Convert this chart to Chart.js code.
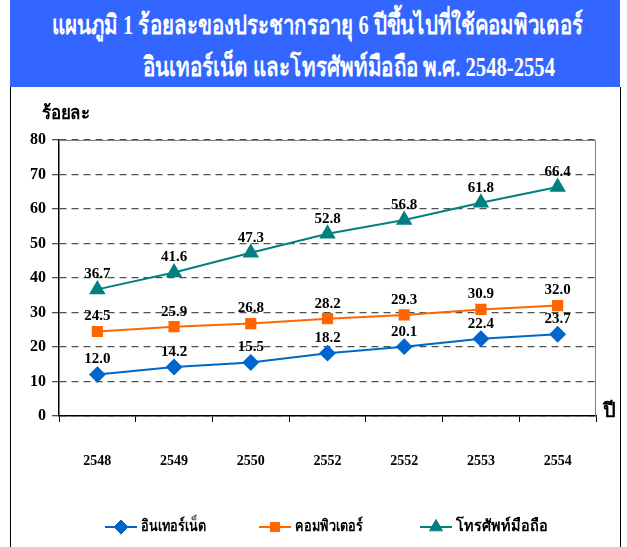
<!DOCTYPE html>
<html><head><meta charset="utf-8">
<script src="https://cdn.jsdelivr.net/npm/chart.js@4/dist/chart.umd.min.js"></script>
<style>
html,body{margin:0;padding:0;background:#fff;width:627px;height:547px;overflow:hidden;}
#wrap{position:relative;width:627px;height:547px;}
#bar{position:absolute;left:10px;top:0;width:610px;height:87px;background:#3366FF;}
.tl{position:absolute;color:#fff;font-family:"Liberation Serif",serif;font-weight:bold;font-size:27px;white-space:nowrap;line-height:1;transform-origin:0 0;}
#frame{position:absolute;left:10px;top:87px;width:609px;height:600px;border-left:1px solid #000;border-right:1px solid #000;}
.lbl{position:absolute;font-family:"Liberation Serif",serif;font-weight:bold;color:#000;white-space:nowrap;line-height:1;transform-origin:0 0;}
canvas{position:absolute;left:0;top:0;}
</style></head><body>
<div id="wrap">
<div id="bar"></div>
<div class="tl" id="t1" data-w="531" style="left:52px;top:12px;">แผนภูมิ 1 ร้อยละของประชากรอายุ 6 ปีขึ้นไปที่ใช้คอมพิวเตอร์</div>
<div class="tl" id="t2" data-w="412" style="left:143px;top:54px;">อินเทอร์เน็ต และโทรศัพท์มือถือ พ.ศ. 2548-2554</div>
<div id="frame"></div>
<canvas id="c" width="627" height="547"></canvas>
<div class="lbl" data-w="48" style="left:42px;top:103px;font-size:19px;">ร้อยละ</div>
<div class="lbl" style="left:603px;top:400px;font-size:20px;">ปี</div>
</div>
<script>
document.querySelectorAll('[data-w]').forEach(el=>{
  const w = el.getBoundingClientRect().width;
  el.style.transform = 'scaleX(' + (parseFloat(el.dataset.w)/w) + ')';
});

const categories = ["2548","2549","2550","2552","2552","2553","2554"];
const seriesNames = ["อินเทอร์เน็ต","คอมพิวเตอร์","โทรศัพท์มือถือ"];
const internet = [12.0,14.2,15.5,18.2,20.1,22.4,23.7];
const computer = [24.5,25.9,26.8,28.2,29.3,30.9,32.0];
const mobile = [36.7,41.6,47.3,52.8,56.8,61.8,66.4];
const yTicks = [0,10,20,30,40,50,60,70,80];

const colors = ["#0066CC","#FF6600","#008080"];
const styles = ["rectRot","rect","triangle"];
const radii = [7,6.5,7.5];
const FONT = '"Liberation Serif", serif';
const legendTextW = [65, 68, 92];

const labelPlugin = {
  id:'labels',
  beforeDatasetsDraw(chart){
    const {ctx, chartArea:a} = chart;
    ctx.save();
    ctx.strokeStyle = '#808080'; ctx.lineWidth = 1;
    ctx.beginPath(); ctx.moveTo(a.left, a.top+0.5); ctx.lineTo(a.right-0.5, a.top+0.5); ctx.lineTo(a.right-0.5, a.bottom); ctx.stroke();
    ctx.restore();
  },
  afterDatasetsDraw(chart){
    const {ctx} = chart;
    ctx.save();
    ctx.font = 'bold 15px ' + FONT;
    ctx.fillStyle = '#000'; ctx.textAlign='center'; ctx.textBaseline='middle';
    chart.data.datasets.forEach((ds,i)=>{
      chart.getDatasetMeta(i).data.forEach((p,j)=>{
        ctx.fillText(ds.data[j].toFixed(1), p.x, p.y-15);
      });
    });
    // legend
    const lx = [105, 259, 420];
    const ly = 527;
    chart.data.datasets.forEach((ds,i)=>{
      const x = lx[i];
      ctx.strokeStyle = ds.borderColor; ctx.lineWidth = 2;
      ctx.beginPath(); ctx.moveTo(x, ly); ctx.lineTo(x+32, ly); ctx.stroke();
      ctx.fillStyle = ds.borderColor; ctx.strokeStyle = ds.borderColor; ctx.lineWidth = 1;
      Chart.helpers.drawPoint(ctx, {pointStyle: ds.pointStyle, radius: ds.pointRadius, borderWidth: 1, rotation:0}, x+16, ly);
      ctx.fillStyle = '#000'; ctx.textAlign='left';
      ctx.font = 'bold 16px ' + FONT;
      const w = ctx.measureText(ds.label).width;
      ctx.save();
      ctx.translate(x+36, ly);
      ctx.scale(legendTextW[i]/w, 1);
      ctx.fillText(ds.label, 0, 0);
      ctx.restore();
    });
    ctx.restore();
  }
};

const datasets = [internet, computer, mobile].map((d,i)=>({
  label: seriesNames[i], data: d,
  borderColor: colors[i], backgroundColor: colors[i],
  pointStyle: styles[i], pointRadius: radii[i], pointHoverRadius: radii[i],
  pointBackgroundColor: colors[i], pointBorderColor: colors[i],
  borderWidth: 2, tension: 0
}));

new Chart(document.getElementById('c'), {
  type:'line',
  data:{labels:categories, datasets},
  options:{
    responsive:false, animation:false,
    layout:{padding:{left:0, right:31, top:140, bottom:0}},
    plugins:{legend:{display:false}, tooltip:{enabled:false}},
    scales:{
      x:{
        offset:true,
        grid:{display:true, drawOnChartArea:false, drawTicks:true, tickLength:6, color:'#000', offset:true},
        border:{display:true, color:'#000', width:1.5},
        ticks:{color:'#000', padding:31, font:{family:FONT, weight:'bold', size:14}, maxRotation:0},
        afterFit(s){ s.height = 131; }
      },
      y:{
        min:0, max:80,
        afterBuildTicks(s){ s.ticks = yTicks.map(v=>({value:v})); },
        grid:{color:'#505050', lineWidth:1.3, tickLength:7, tickColor:'#505050', drawTicks:true},
        border:{display:true, color:'#000', width:1.5, dash:[7,5]},
        ticks:{color:'#000', padding:6, font:{family:FONT, weight:'bold', size:16}},
        afterFit(s){ s.width = 59; }
      }
    }
  },
  plugins:[labelPlugin]
});
</script>
</body></html>
